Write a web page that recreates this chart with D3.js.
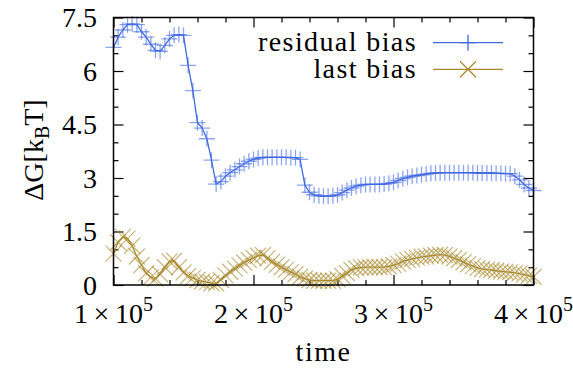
<!DOCTYPE html>
<html><head><meta charset="utf-8">
<script src="https://cdn.jsdelivr.net/npm/d3@7"></script>
<style>html,body{margin:0;padding:0;background:#fff;} svg{display:block;}
.t{font-family:"Liberation Serif","DejaVu Serif",serif;}</style>
</head><body>
<svg id="c" width="573" height="369"></svg>
<script>
// time in units of 1000
const times = [100,103.3,106.7,110,113.3,116.7,120,123.3,126.7,130,133.3,136.7,140,143.3,146.7,150,153.3,156.7,160,163.3,166.7,170,173.3,176.7,180,183.3,186.7,190,193.3,196.7,200,203.3,206.7,210,213.3,216.7,220,223.3,226.7,230,233.3,236.7,240,243.3,246.7,250,253.3,256.7,260,263.3,266.7,270,273.3,276.7,280,283.3,286.7,290,293.3,296.7,300,303.3,306.7,310,313.3,316.7,320,323.3,326.7,330,333.3,336.7,340,343.3,346.7,350,353.3,356.7,360,363.3,366.7,370,373.3,376.7,380,383.3,386.7,390,393.3,396.7,400];
const residualBias = [6.66,6.95,7.15,7.3,7.32,7.3,7.1,6.95,6.75,6.58,6.55,6.72,6.9,7.0,7.02,7.0,6.16,5.45,4.55,4.4,4.1,3.5,2.83,2.9,3.05,3.15,3.23,3.32,3.4,3.47,3.52,3.56,3.58,3.58,3.58,3.58,3.58,3.58,3.57,3.57,3.52,2.8,2.6,2.53,2.5,2.49,2.49,2.5,2.53,2.59,2.66,2.72,2.77,2.8,2.82,2.82,2.82,2.82,2.83,2.85,2.88,2.93,2.98,3.02,3.05,3.07,3.09,3.11,3.13,3.14,3.15,3.15,3.15,3.15,3.15,3.15,3.15,3.15,3.14,3.14,3.14,3.14,3.13,3.13,3.12,3.12,3.05,2.95,2.82,2.72,2.65];
const lastBias = [0.88,1.2,1.35,1.3,1.1,0.8,0.56,0.33,0.22,0.18,0.3,0.5,0.66,0.68,0.5,0.35,0.25,0.2,0.14,0.1,0.08,0.05,0.05,0.14,0.27,0.37,0.46,0.55,0.63,0.7,0.76,0.82,0.84,0.75,0.65,0.57,0.5,0.43,0.36,0.3,0.23,0.18,0.14,0.12,0.12,0.12,0.12,0.12,0.16,0.25,0.33,0.42,0.47,0.49,0.5,0.5,0.5,0.5,0.5,0.52,0.56,0.6,0.66,0.7,0.73,0.76,0.79,0.8,0.82,0.84,0.85,0.84,0.8,0.75,0.7,0.64,0.58,0.53,0.48,0.45,0.43,0.42,0.4,0.38,0.37,0.36,0.34,0.32,0.29,0.26,0.23];
const xMajorTicks = [100,200,300,400];
const xMajorLabels = ["1","2","3","4"];
const yMajorTicks = [0,1.5,3,4.5,6,7.5];
const yTickLabels = ["0","1.5","3","4.5","6","7.5"];
const seriesNames = ["residual bias","last bias"];

const colBlue = "#4169e1", colGold = "#a98a2f";
const L = 113.5, R = 533.5, T = 17.5, B = 285;

const svg = d3.select("#c");
const x = d3.scaleLinear().domain([100,400]).range([L,R]);
const y = d3.scaleLinear().domain([0,7.5]).range([B,T]);

const xMinor = d3.range(100,400.01,20).filter(v => !xMajorTicks.includes(v));
const yMinor = d3.range(0,7.51,0.5).filter(v => !yMajorTicks.some(t => Math.abs(t-v)<1e-6));

function styleAxis(g){ g.select(".domain").remove(); g.selectAll("line").attr("stroke","#000").attr("stroke-width",1.2); g.selectAll("text").remove(); }

// ticks (inward, mirrored)
svg.append("g").attr("transform",`translate(0,${B})`).call(d3.axisBottom(x).tickValues(xMajorTicks).tickSize(-10)).call(styleAxis);
svg.append("g").attr("transform",`translate(0,${B})`).call(d3.axisBottom(x).tickValues(xMinor).tickSize(-5)).call(styleAxis);
svg.append("g").attr("transform",`translate(0,${T})`).call(d3.axisTop(x).tickValues(xMajorTicks).tickSize(-10)).call(styleAxis);
svg.append("g").attr("transform",`translate(0,${T})`).call(d3.axisTop(x).tickValues(xMinor).tickSize(-5)).call(styleAxis);
svg.append("g").attr("transform",`translate(${L},0)`).call(d3.axisLeft(y).tickValues(yMajorTicks).tickSize(-10)).call(styleAxis);
svg.append("g").attr("transform",`translate(${L},0)`).call(d3.axisLeft(y).tickValues(yMinor).tickSize(-5)).call(styleAxis);
svg.append("g").attr("transform",`translate(${R},0)`).call(d3.axisRight(y).tickValues(yMajorTicks).tickSize(-10)).call(styleAxis);
svg.append("g").attr("transform",`translate(${R},0)`).call(d3.axisRight(y).tickValues(yMinor).tickSize(-5)).call(styleAxis);

// y tick labels
svg.append("g").selectAll("text").data(yMajorTicks).join("text").attr("class","t")
  .attr("x", 97).attr("y", d => y(d) + 9.5)
  .attr("text-anchor","end").attr("font-size",28).attr("fill","#000")
  .text((d,i) => yTickLabels[i]);

// x tick labels
const xl = svg.append("g").selectAll("text").data(xMajorTicks).join("text").attr("class","t")
  .attr("x", d => x(d)).attr("y", 323)
  .attr("text-anchor","middle").attr("font-size",28).attr("fill","#000");
xl.each(function(d,i){
  const t = d3.select(this);
  t.append("tspan").text(xMajorLabels[i] + "\u2009\u00d7\u200910");
  t.append("tspan").attr("dy",-12).attr("font-size",20).text("5");
});

// axis titles
svg.append("text").attr("class","t").attr("x", x(250)).attr("y", 361).attr("text-anchor","middle")
  .attr("font-size",28).attr("letter-spacing",1.5).attr("fill","#000").text("time");
const yt = svg.append("text").attr("class","t").attr("transform","translate(43,150) rotate(-90)").attr("text-anchor","middle")
  .attr("font-size",28).attr("fill","#000");
yt.append("tspan").text("\u0394G[k");
yt.append("tspan").attr("dy",6).attr("font-size",20).text("B");
yt.append("tspan").attr("dy",-6).text("T]");

// series
const plusPath = "M-8,0H8M0,-8V8";
const crossPath = "M-8,-8L8,8M-8,8L8,-8";
const line = d3.line().x((d,i) => x(times[i])).y(d => y(d));

function drawSeries(vals, col, path){
  const g = svg.append("g");
  g.append("path").attr("d", line(vals)).attr("fill","none").attr("stroke",col).attr("stroke-width",1.3);
  g.selectAll("path.m").data(vals).join("path").attr("class","m")
    .attr("transform",(d,i) => `translate(${x(times[i])},${y(d)})`)
    .attr("d", path).attr("stroke", col).attr("stroke-width",1.3).attr("stroke-opacity",0.6).attr("fill","none");
}
drawSeries(residualBias, colBlue, plusPath);
drawSeries(lastBias, colGold, crossPath);

// frame
svg.append("rect").attr("x",L).attr("y",T).attr("width",R-L).attr("height",B-T)
  .attr("fill","none").attr("stroke","#000").attr("stroke-width",1.5);

// legend
const leg = [{name:seriesNames[0], col:colBlue, p:plusPath, yb:51, yl:42.7},
             {name:seriesNames[1], col:colGold, p:crossPath, yb:77.5, yl:69.3}];
const lg = svg.append("g");
leg.forEach(e => {
  lg.append("text").attr("class","t").attr("x",417).attr("y",e.yb).attr("text-anchor","end")
    .attr("font-size",28).attr("letter-spacing",1.4).attr("fill","#000").text(e.name);
  lg.append("line").attr("x1",433).attr("x2",503).attr("y1",e.yl).attr("y2",e.yl)
    .attr("stroke",e.col).attr("stroke-width",1.3);
  lg.append("path").attr("transform",`translate(468,${e.yl})`).attr("d",e.p)
    .attr("stroke",e.col).attr("stroke-width",1.3).attr("fill","none");
});
</script>
</body></html>
